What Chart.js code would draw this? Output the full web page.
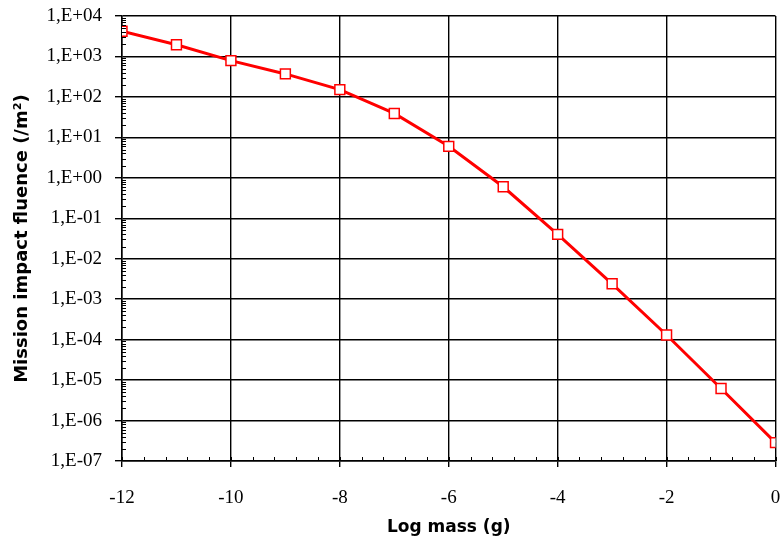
<!DOCTYPE html>
<html>
<head>
<meta charset="utf-8">
<script src="https://cdn.jsdelivr.net/npm/chart.js@4/dist/chart.umd.min.js"></script>
<style>
  html, body { margin: 0; padding: 0; background: #fff; }
  #wrap { width: 784px; height: 541px; }
</style>
</head>
<body>
<div id="wrap"><canvas id="fluenceChart" width="784" height="541"></canvas></div>
<script>
const LOG_MASS = [-12, -11, -10, -9, -8, -7, -6, -5, -4, -3, -2, -1, 0];
const FLUENCE = [4200, 1950, 790, 370, 151, 39, 6.0, 0.60, 0.040, 0.0024, 1.3e-4, 6.2e-6, 2.85e-7];

const Y_TICK_VALUES = [1e-7, 1e-6, 1e-5, 1e-4, 1e-3, 1e-2, 1e-1, 1e0, 1e1, 1e2, 1e3, 1e4];
const Y_TICK_LABELS = ['1,E-07', '1,E-06', '1,E-05', '1,E-04', '1,E-03', '1,E-02', '1,E-01', '1,E+00', '1,E+01', '1,E+02', '1,E+03', '1,E+04'];
const X_MIN = -12, X_MAX = 0, X_STEP = 2, X_MINOR_STEP = 0.4;

const tickFont = { family: '"Liberation Serif", "Times New Roman", serif', size: 19 };
const xTitleFont = { family: '"DejaVu Sans", Arial, sans-serif', size: 17, weight: 'bold' };
const yTitleFont = { family: '"DejaVu Sans", Arial, sans-serif', size: 18, weight: 'bold' };

// small inside ticks (log minor on y, 0.4 steps on x)
const minorTicks = {
  id: 'minorTicks',
  afterDraw(chart) {
    const { ctx, chartArea: a, scales: { x, y } } = chart;
    ctx.save();
    ctx.strokeStyle = '#000';
    ctx.lineWidth = 1;
    ctx.beginPath();
    for (let e = -7; e < 4; e++) {
      for (let k = 2; k <= 9; k++) {
        const py = Math.round(y.getPixelForValue(k * Math.pow(10, e))) + 0.5;
        ctx.moveTo(a.left, py);
        ctx.lineTo(a.left + 4, py);
      }
    }
    for (let v = X_MIN; v <= X_MAX + 1e-9; v += X_MINOR_STEP) {
      const px = Math.round(x.getPixelForValue(v)) + 0.5;
      ctx.moveTo(px, a.bottom);
      ctx.lineTo(px, a.bottom - 4);
    }
    ctx.stroke();
    ctx.restore();
  }
};

const dataFluence = {
  datasets: [{
    label: 'Mission impact fluence',
    data: LOG_MASS.map((m, i) => ({ x: m, y: FLUENCE[i] })),
    borderColor: '#ff0000',
    borderWidth: 3,
    pointStyle: 'rect',
    pointRadius: 7,
    pointBorderWidth: 1.5,
    pointBorderColor: '#ff0000',
    pointBackgroundColor: '#ffffff',
    tension: 0
  }]
};

const configFluence = {
  type: 'line',
  data: dataFluence,
  options: {
    responsive: false,
    animation: false,
    layout: { padding: { top: 16, right: 5, left: 0, bottom: 0 } },
    plugins: {
      legend: { display: false },
      tooltip: { enabled: false }
    },
    scales: {
      x: {
        type: 'linear',
        min: X_MIN,
        max: X_MAX,
        ticks: { stepSize: X_STEP, color: '#000', font: tickFont, padding: 20, maxRotation: 0 },
        grid: { color: '#000', lineWidth: 1.4, tickLength: 6, tickColor: '#000' },
        border: { color: '#000', width: 1.5 },
        title: { display: true, text: 'Log mass (g)', color: '#000', font: xTitleFont, padding: { top: 0, bottom: 3 } },
        afterFit(scale) {
          scale.height = 80;
          scale.paddingLeft = 0;
          scale.paddingRight = 0;
        }
      },
      y: {
        type: 'logarithmic',
        min: 1e-7,
        max: 1e4,
        afterBuildTicks(scale) { scale.ticks = Y_TICK_VALUES.map(v => ({ value: v })); },
        ticks: {
          autoSkip: false,
          color: '#000',
          font: tickFont,
          padding: 13,
          callback: (v) => {
            const i = Y_TICK_VALUES.findIndex(t => Math.abs(Math.log10(t) - Math.log10(v)) < 1e-6);
            return i >= 0 ? Y_TICK_LABELS[i] : '';
          }
        },
        grid: { color: '#000', lineWidth: 1.4, tickLength: 7, tickColor: '#000' },
        border: { color: '#000', width: 1.5 },
        title: { display: true, text: 'Mission impact fluence (/m²)', color: '#000', font: yTitleFont, padding: { top: 12, bottom: 0 } },
        afterFit(scale) {
          scale.width = 122;
          scale.paddingTop = 0;
          scale.paddingBottom = 0;
        }
      }
    }
  },
  plugins: [minorTicks]
};

var fluenceChart = new Chart(
  document.getElementById('fluenceChart'),
  configFluence
);
</script>
</body>
</html>
